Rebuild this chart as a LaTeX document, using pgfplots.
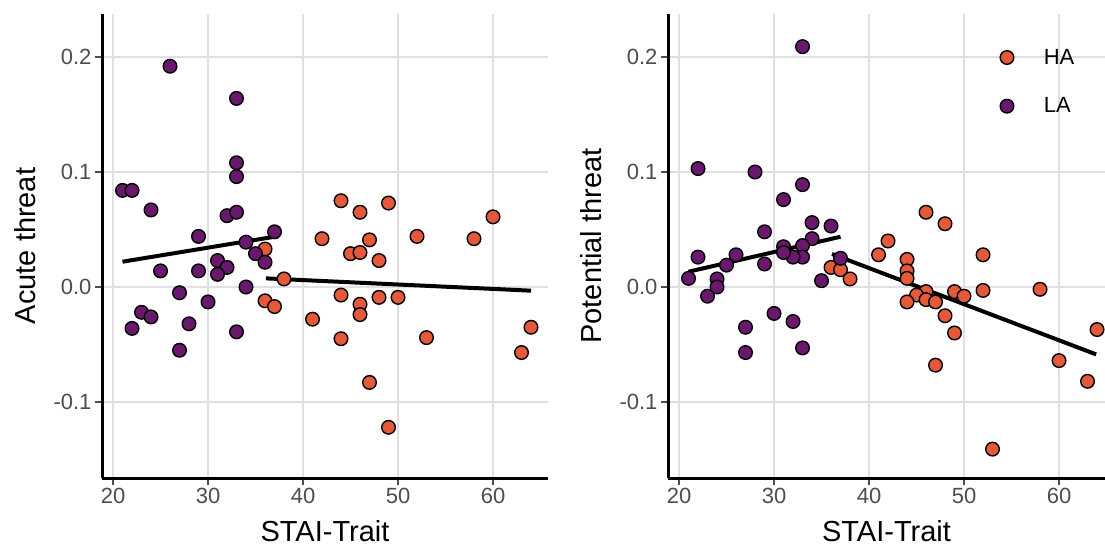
\documentclass[border=0pt]{standalone}
\usepackage{pgfplots}
\pgfplotsset{compat=1.18}
\usepackage{pgfplotstable}
\usepackage{fontspec}
\setmainfont{Liberation Sans}
\definecolor{ha}{HTML}{E4593A}
\definecolor{la}{HTML}{6A176E}
\definecolor{gridc}{HTML}{E0E0E0}
\definecolor{tickc}{HTML}{4D4D4D}

\pgfplotstableread{
x y
44 0.075
46 0.065
49 0.073
60 0.061
42 0.042
47 0.041
52 0.044
58 0.042
36 0.033
45 0.029
46 0.030
48 0.023
38 0.007
36 -0.012
37 -0.017
44 -0.007
46 -0.015
46 -0.024
48 -0.009
50 -0.009
41 -0.028
44 -0.045
53 -0.044
64 -0.035
63 -0.057
47 -0.083
49 -0.122
}\acuteHA

\pgfplotstableread{
x y
26 0.192
33 0.164
33 0.108
33 0.096
21 0.084
22 0.084
24 0.067
32 0.062
33 0.065
29 0.044
37 0.048
34 0.039
35 0.029
36 0.0215
31 0.023
32 0.017
31 0.011
25 0.014
29 0.014
34 0.000
27 -0.005
30 -0.013
23 -0.022
24 -0.026
22 -0.036
28 -0.032
33 -0.039
27 -0.055
}\acuteLA

\pgfplotstableread{
x y
46 0.065
48 0.055
42 0.040
41 0.028
52 0.028
44 0.024
44 0.014
44 0.0075
36 0.017
37 0.015
38 0.007
46 -0.004
45 -0.007
46 -0.011
44 -0.013
47 -0.013
49 -0.004
50 -0.008
52 -0.003
58 -0.002
48 -0.025
49 -0.040
47 -0.068
64 -0.037
60 -0.064
63 -0.082
53 -0.141
}\potHA

\pgfplotstableread{
x y
33 0.209
22 0.103
28 0.100
33 0.089
31 0.076
29 0.048
34 0.056
36 0.053
34 0.042
31 0.035
33 0.036
33 0.026
32 0.026
31 0.030
26 0.028
22 0.026
25 0.019
29 0.020
21 0.0075
24 0.007
24 0.000
23 -0.008
35 0.0055
37 0.025
30 -0.023
32 -0.030
27 -0.035
27 -0.057
33 -0.053
}\potLA

\pgfplotsset{
  panel/.style={
    scale only axis,
    height=464pt,
    ymin=-0.1661, ymax=0.2374,
    axis lines*=left,
    axis line style={black, line width=3pt},
    xtick={20,30,40,50,60},
    xticklabels={20,30,40,50,60},
    ytick={-0.1,0,0.1,0.2},
    yticklabels={-0.1,0.0,0.1,0.2},
    tick align=outside,
    major tick length=7pt,
    every tick/.style={tickc, line width=2pt},
    tick label style={font=\fontsize{22}{24}\selectfont, text=tickc},
    label style={font=\fontsize{29}{32}\selectfont, inner sep=0pt},
    grid=major,
    major grid style={gridc, line width=2.4pt},
    clip=false,
  },
  hapts/.style={only marks, mark=*, mark size=6.8pt, mark options={fill=ha, draw=black, line width=1.4pt}},
  lapts/.style={only marks, mark=*, mark size=6.8pt, mark options={fill=la, draw=black, line width=1.4pt}},
  fitline/.style={black, line width=4pt, no marks},
}

\begin{document}
\begin{tikzpicture}
\useasboundingbox (0,0) rectangle (1105pt,546pt);
\begin{axis}[panel,
  at={(102pt,68pt)}, anchor=south west,
  width=446pt,
  xmin=18.84, xmax=65.79,
  xlabel={STAI-Trait}, ylabel={Acute threat},
  xlabel style={at={(axis description cs:0.5,-0.1379)}, anchor=base},
  ylabel style={at={(axis description cs:-0.1487,0.5)}, anchor=base, rotate=0},
]
\addplot[hapts] table {\acuteHA};
\addplot[lapts] table {\acuteLA};
\addplot[fitline] coordinates {(21,0.022) (37,0.0437)};
\addplot[fitline] coordinates {(36.1,0.0075) (64,-0.0032)};
\end{axis}
\begin{axis}[panel,
  at={(668pt,68pt)}, anchor=south west,
  width=437pt,
  xmin=18.84, xmax=64.84,
  xlabel={STAI-Trait}, ylabel={Potential threat},
  xlabel style={at={(axis description cs:0.5,-0.1379)}, anchor=base},
  ylabel style={at={(axis description cs:-0.1517,0.5)}, anchor=base, rotate=0},
  legend style={draw=none, fill=none, at={(axis cs:53.47,0.2087)}, anchor=north west,
    font=\fontsize{22}{24}\selectfont, row sep=32pt, column sep=30pt,
    nodes={inner sep=0pt}},
  legend cell align=left,
  legend image code/.code={\draw[#1] plot coordinates {(0.35cm,0cm)};},
]
\addplot[hapts] table {\potHA};
\addlegendentry{HA}
\addplot[lapts] table {\potLA};
\addlegendentry{LA}
\addplot[fitline, forget plot] coordinates {(21,0.0133) (37,0.0437)};
\addplot[fitline, forget plot] coordinates {(36.1,0.0287) (63.9,-0.0586)};
\end{axis}
\end{tikzpicture}
\end{document}
